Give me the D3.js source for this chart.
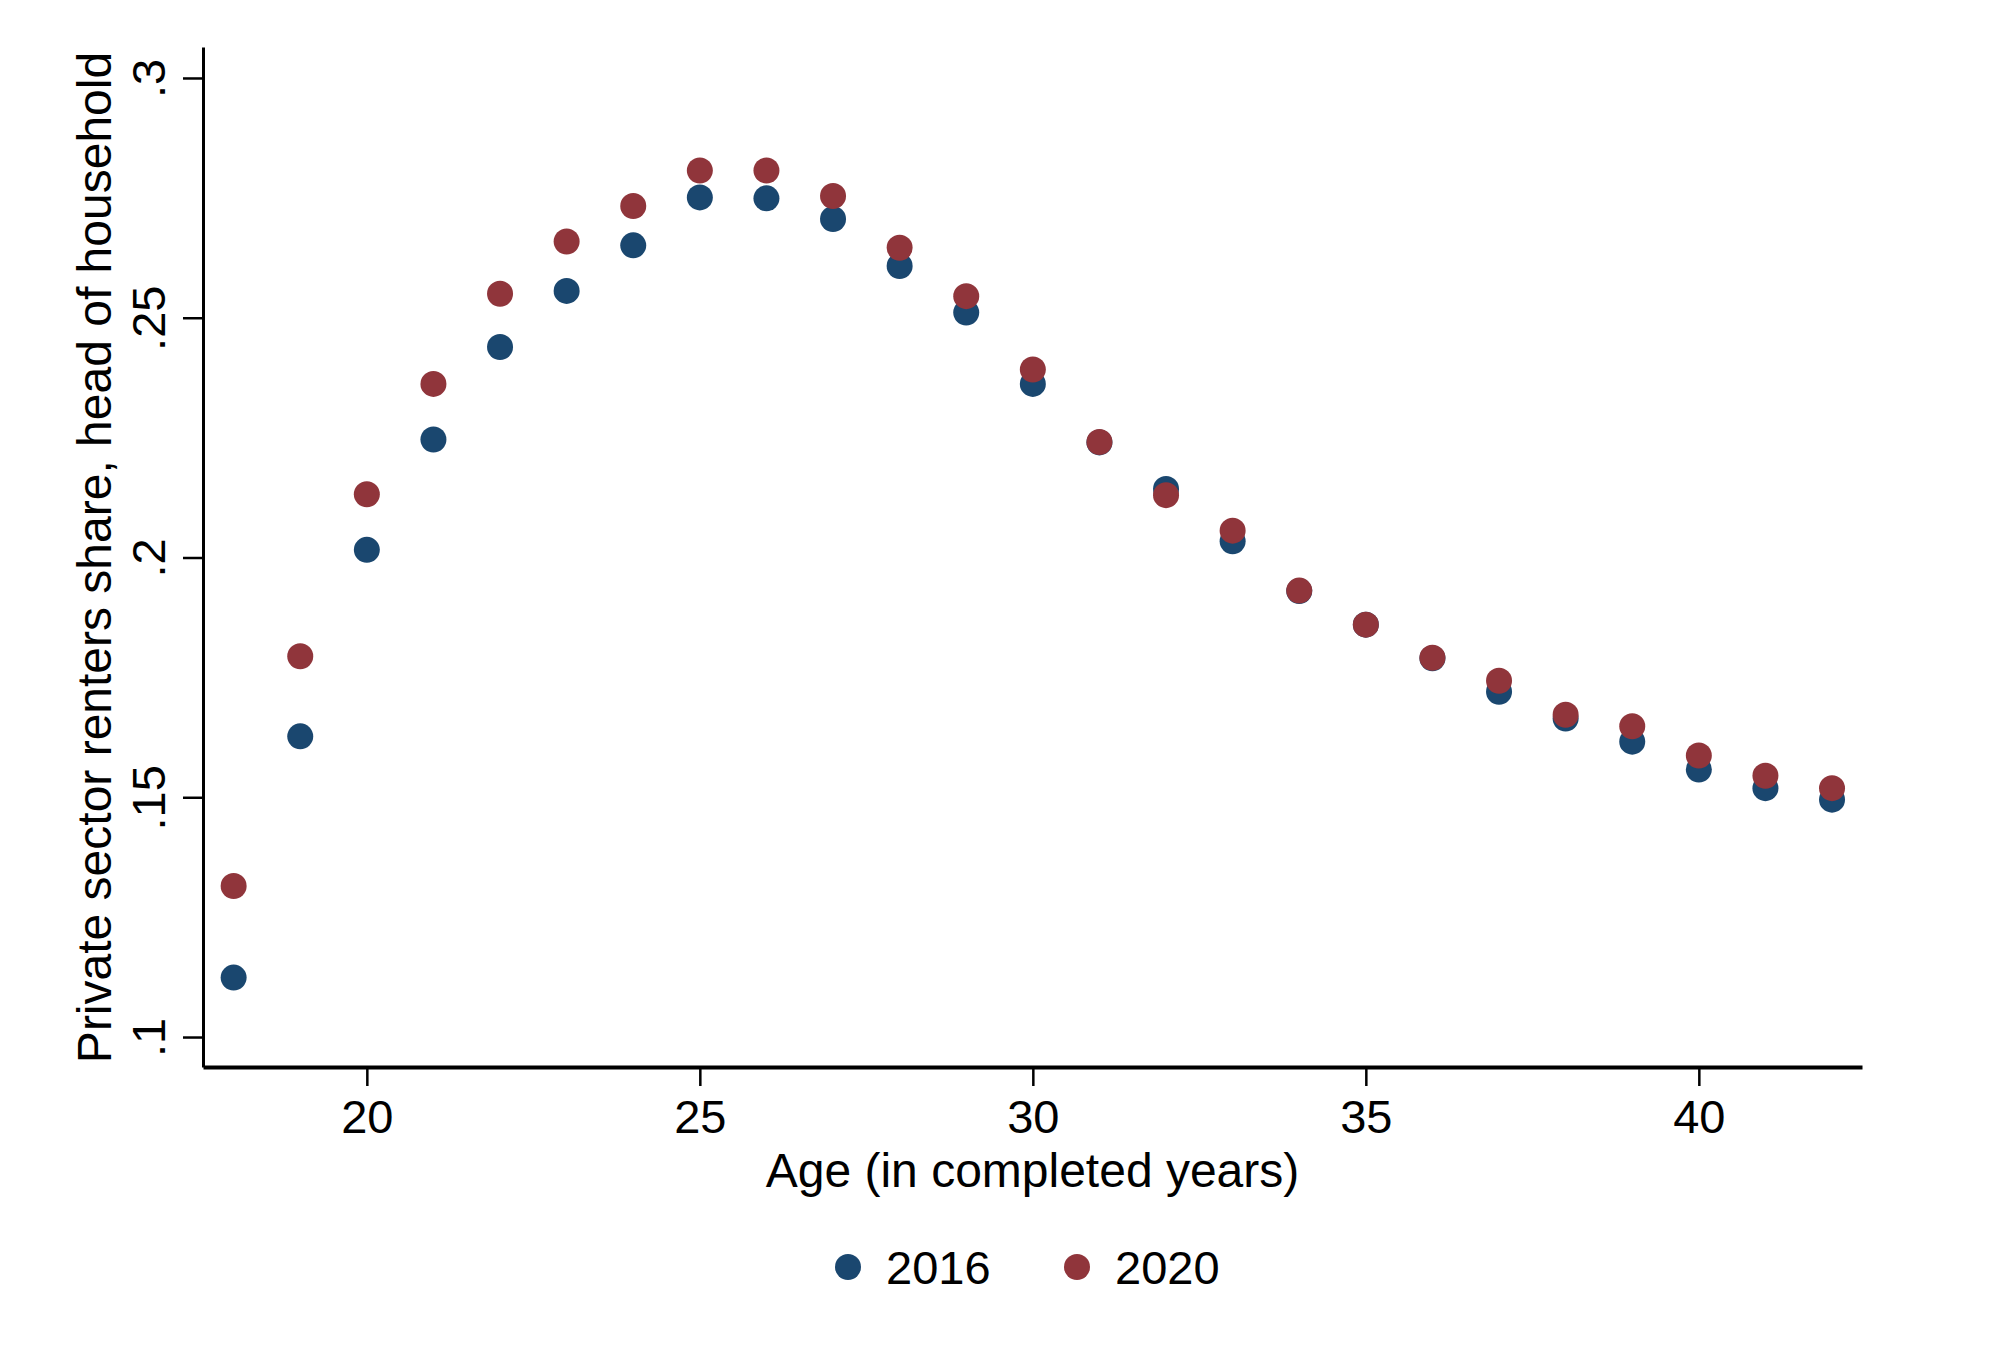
<!DOCTYPE html>
<html>
<head>
<meta charset="utf-8">
<script src="https://cdn.jsdelivr.net/npm/d3@7.9.0/dist/d3.min.js"></script>
<style>
  html, body { margin: 0; padding: 0; background: #fff; }
  svg { display: block; font-family: "Liberation Sans", Arial, Helvetica, sans-serif; }
</style>
</head>
<body>
<div id="chart"></div>
<script>
// ── Data ─────────────────────────────────────────────────────────────────────
const ages = [18, 19, 20, 21, 22, 23, 24, 25, 26, 27, 28, 29, 30,
              31, 32, 33, 34, 35, 36, 37, 38, 39, 40, 41, 42];
const share2016 = [0.1124, 0.1627, 0.2016, 0.2246, 0.2439, 0.2556, 0.2651, 0.2751, 0.2749,
                   0.2706, 0.2608, 0.2511, 0.2362, 0.2240, 0.2143, 0.2034, 0.1930, 0.1860,
                   0.1790, 0.1720, 0.1664, 0.1616, 0.1558, 0.1519, 0.1495];
const share2020 = [0.1315, 0.1794, 0.2132, 0.2362, 0.2550, 0.2659, 0.2733, 0.2807, 0.2807,
                   0.2754, 0.2646, 0.2545, 0.2392, 0.2241, 0.2130, 0.2056, 0.1931, 0.1860,
                   0.1791, 0.1743, 0.1672, 0.1648, 0.1587, 0.1545, 0.1519];
const xTicks = [20, 25, 30, 35, 40];
const yTicks = [0.1, 0.15, 0.2, 0.25, 0.3];
const yTickLabels = ['.1', '.15', '.2', '.25', '.3'];
const seriesNames = ['2016', '2020'];
const seriesColors = ['#1a476f', '#90353b'];

// ── Layout ───────────────────────────────────────────────────────────────────
const width = 1991;
const height = 1350;
const plot = { left: 203, right: 1862, top: 47, bottom: 1067 };
const fontSize = 47;

const svg = d3.select('#chart')
  .append('svg')
  .attr('width', width)
  .attr('height', height);

svg.append('rect').attr('width', width).attr('height', height).attr('fill', '#fff');

const x = d3.scaleLinear().domain([17.54, 42.45]).range([plot.left, plot.right]);
const y = d3.scaleLinear().domain([0.09375, 0.30646]).range([plot.bottom, plot.top]);

// X axis
const xAxis = svg.append('g')
  .attr('transform', `translate(0, ${plot.bottom})`)
  .call(d3.axisBottom(x).tickValues(xTicks).tickSize(19).tickPadding(14).tickSizeOuter(0));
xAxis.select('.domain').attr('stroke', '#000').attr('stroke-width', 4);
xAxis.selectAll('.tick line').attr('stroke', '#000').attr('stroke-width', 2.5);
xAxis.selectAll('.tick text').attr('font-size', fontSize).attr('fill', '#000').attr('font-family', null);

// Y axis
const yAxis = svg.append('g')
  .attr('transform', `translate(${plot.left}, 0)`)
  .call(d3.axisLeft(y).tickValues(yTicks).tickSize(20).tickSizeOuter(0)
    .tickFormat((d, i) => yTickLabels[i]));
yAxis.select('.domain').attr('stroke', '#000').attr('stroke-width', 3);
yAxis.selectAll('.tick line').attr('stroke', '#000').attr('stroke-width', 2.5);
yAxis.selectAll('.tick text')
  .attr('font-size', fontSize)
  .attr('fill', '#000')
  .attr('font-family', null)
  .attr('x', null).attr('dy', null)
  .attr('text-anchor', 'middle')
  .attr('transform', 'translate(-38, 0) rotate(-90)');

// Axis titles
svg.append('text')
  .attr('x', (plot.left + plot.right) / 2)
  .attr('y', 1187)
  .attr('text-anchor', 'middle')
  .attr('font-size', 48)
  .text('Age (in completed years)');

svg.append('text')
  .attr('transform', `translate(111, ${(y(0.1) + y(0.3)) / 2}) rotate(-90)`)
  .attr('text-anchor', 'middle')
  .attr('font-size', 48)
  .text('Private sector renters share, head of household');

// Dots (2016 first, 2020 on top)
[share2016, share2020].forEach((vals, s) => {
  svg.append('g')
    .selectAll('circle')
    .data(ages.map((a, i) => ({ age: a, v: vals[i] })))
    .join('circle')
    .attr('cx', (d) => x(d.age))
    .attr('cy', (d) => y(d.v))
    .attr('r', 13)
    .attr('fill', seriesColors[s]);
});

// Legend
const legend = svg.append('g').attr('transform', 'translate(848, 1267)');
const items = legend.selectAll('g')
  .data(seriesNames)
  .join('g')
  .attr('transform', (d, i) => `translate(${i * 229}, 0)`);
items.append('circle').attr('r', 13).attr('fill', (d, i) => seriesColors[i]);
items.append('text')
  .attr('x', 38)
  .attr('y', 17)
  .attr('font-size', fontSize)
  .text((d) => d);
</script>
</body>
</html>
